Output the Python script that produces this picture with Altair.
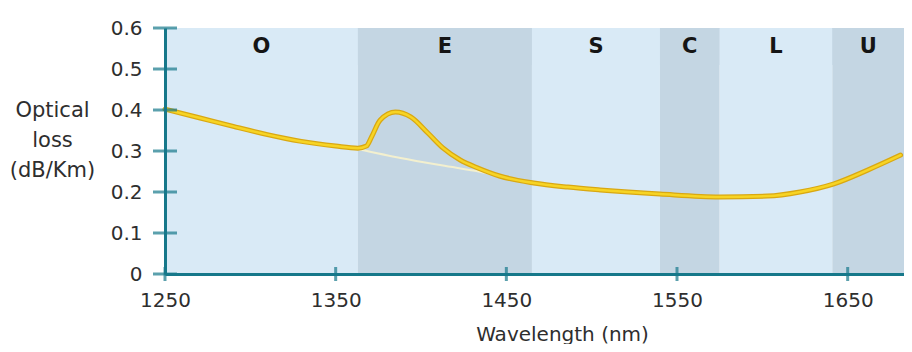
import altair as alt
import pandas as pd

# ---- data ----
wavelength = [1250, 1270, 1290, 1310, 1329, 1350, 1363, 1368, 1371, 1376, 1385, 1394,
              1404, 1413, 1423, 1433, 1446, 1466, 1486, 1505, 1540, 1575, 1603, 1622,
              1642, 1662, 1681]
loss = [0.402, 0.381, 0.360, 0.340, 0.324, 0.312, 0.307, 0.312, 0.334, 0.375, 0.395, 0.383,
        0.344, 0.307, 0.278, 0.259, 0.239, 0.222, 0.212, 0.205, 0.195, 0.188, 0.190, 0.200,
        0.220, 0.254, 0.290]

base_wavelength = [1363, 1388, 1412, 1435, 1446]
base_loss = [0.305, 0.283, 0.265, 0.249, 0.240]

band_names = ["O", "E", "S", "C", "L", "U"]
band_start = [1250, 1363, 1465, 1540, 1575, 1641]
band_end = [1363, 1465, 1540, 1575, 1641, 1695]
band_shade = ["light", "dark", "light", "dark", "light", "dark"]

x_ticks = [1250, 1350, 1450, 1550, 1650]
y_ticks = [0, 0.1, 0.2, 0.3, 0.4, 0.5, 0.6]

X_DOMAIN = [1250, 1683]
Y_DOMAIN = [0, 0.6]
W, H = 739, 246
TEAL = "#16788a"
FONT = "DejaVu Sans"
TXT = "#2e2e2e"

curve = pd.DataFrame({"wl": wavelength, "loss": loss})
base = pd.DataFrame({"wl": base_wavelength, "loss": base_loss})
bands = pd.DataFrame({"band": band_names, "start": band_start, "end": band_end, "shade": band_shade})
xt = pd.DataFrame({"wl": x_ticks})
yt = pd.DataFrame({"loss": y_ticks})

xscale = alt.Scale(domain=X_DOMAIN, nice=False, zero=False)
yscale = alt.Scale(domain=Y_DOMAIN, nice=False, zero=True)

x_axis = alt.Axis(values=x_ticks, format="d", ticks=False, tickSize=0, grid=False, zindex=1,
                  domainColor=TEAL, domainWidth=3, labelFont=FONT, labelFontSize=20,
                  labelColor=TXT, labelPadding=16, labelFlush=False,
                  title="Wavelength (nm)", titleFont=FONT, titleFontSize=20,
                  titleFontWeight="normal", titleColor=TXT,
                  titleX=397, titleY=60, titleBaseline="middle", titleAlign="center")
y_axis = alt.Axis(values=y_ticks, format=".1~f", ticks=False, tickSize=0, grid=False, zindex=1,
                  domainColor=TEAL, domainWidth=3, labelFont=FONT, labelFontSize=20,
                  labelColor=TXT, labelPadding=23, labelFlush=False,
                  title=["Optical", "loss", "(dB/Km)"], titleFont=FONT, titleFontSize=21,
                  titleFontWeight="normal", titleColor=TXT, titleAngle=0,
                  titleX=-113, titleY=82, titleAlign="center", titleBaseline="middle",
                  titleLineHeight=30)

shade_body = alt.Scale(domain=["light", "dark"], range=["#d9eaf6", "#c4d6e3"])
shade_head = alt.Scale(domain=["light", "dark"], range=["#e3f1fb", "#d1dfea"])

band_body = alt.Chart(bands).mark_rect(clip=True).encode(
    x=alt.X("start:Q", scale=xscale, axis=x_axis),
    x2="end:Q",
    y=alt.value(0),
    y2=alt.value(H),
    color=alt.Color("shade:N", scale=shade_body, legend=None),
)
band_head = alt.Chart(bands).mark_rect(clip=True).encode(
    x=alt.X("start:Q", scale=xscale),
    x2="end:Q",
    y=alt.value(0),
    y2=alt.value(37),
    color=alt.Color("shade:N", scale=shade_head, legend=None),
)
band_text = alt.Chart(bands).transform_calculate(
    mid="(datum.start + min(datum.end, 1683)) / 2"
).mark_text(font=FONT, fontSize=21, fontWeight="bold", color="#151515", baseline="middle").encode(
    x=alt.X("mid:Q", scale=xscale),
    y=alt.value(19),
    text="band:N",
)

base_line = alt.Chart(base).mark_line(color="#f3f0cf", strokeWidth=2, interpolate="monotone").encode(
    x=alt.X("wl:Q", scale=xscale),
    y=alt.Y("loss:Q", scale=yscale, axis=y_axis),
)
curve_outer = alt.Chart(curve).mark_line(color="#d9a812", strokeWidth=5, interpolate="monotone",
                                         strokeCap="round").encode(
    x=alt.X("wl:Q", scale=xscale),
    y=alt.Y("loss:Q", scale=yscale),
)
curve_inner = alt.Chart(curve).mark_line(color="#f7d424", strokeWidth=2.5, interpolate="monotone",
                                         strokeCap="round").encode(
    x=alt.X("wl:Q", scale=xscale),
    y=alt.Y("loss:Q", scale=yscale),
)

y_tick_marks = alt.Chart(yt).mark_tick(orient="horizontal", size=24, thickness=3, color=TEAL).encode(
    x=alt.value(0),
    y=alt.Y("loss:Q", scale=yscale),
)
x_tick_marks = alt.Chart(xt).mark_tick(orient="vertical", size=14, thickness=3, color=TEAL).encode(
    x=alt.X("wl:Q", scale=xscale),
    y=alt.value(H),
)

chart = alt.layer(
    band_body, band_head, band_text, base_line, curve_outer, curve_inner,
    y_tick_marks, x_tick_marks,
).properties(
    width=W, height=H,
    autosize=alt.AutoSizeParams(type="none"),
    padding={"left": 157, "top": 20, "right": 0, "bottom": 70},
).configure_view(stroke=None).configure(background="white")

chart.save("out.html", embed_options={"renderer": "svg", "actions": False})
